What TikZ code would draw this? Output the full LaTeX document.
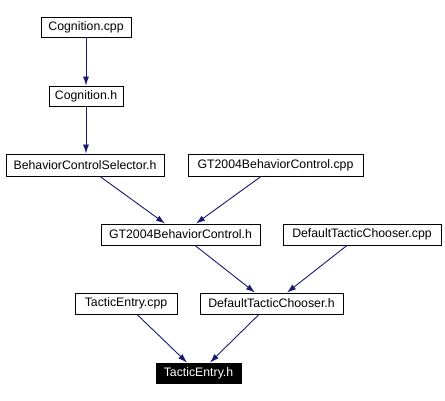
\documentclass[tikz,border=0pt]{standalone}
\usepackage{fontspec}
\setmainfont{Liberation Sans}
\usetikzlibrary{arrows.meta,calc}
\definecolor{edgeblue}{HTML}{191970}
\begin{document}
\begin{tikzpicture}[x=1pt,y=-1pt,
  box/.style={draw=black,line width=0.9pt,fill=white,inner sep=0pt,minimum height=21pt,font=\fontsize{12.3}{14}\selectfont},
  hl/.style={box,fill=black,text=white},
  edge/.style={draw=edgeblue,line width=0.9pt,-{Latex[length=9pt,width=6pt]}}]
\useasboundingbox (0,0) rectangle (445,401);
\node[box,minimum width=90pt,minimum height=20pt] (cpp) at (86,27) {Cognition.cpp};
\node[box,minimum width=74pt,minimum height=20pt] (cogh) at (86,96) {Cognition.h};
\node[box,minimum width=158pt,minimum height=22pt] (bcs) at (85,165) {BehaviorControlSelector.h};
\node[box,minimum width=175pt,minimum height=22pt] (gtcpp) at (275.5,165) {GT2004BehaviorControl.cpp};
\node[box,minimum width=159pt] (gth) at (180.5,234.5) {GT2004BehaviorControl.h};
\node[box,minimum width=158pt] (dtccpp) at (362,234.5) {DefaultTacticChooser.cpp};
\node[box,minimum width=102pt] (tecpp) at (126,303.5) {TacticEntry.cpp};
\node[box,minimum width=143pt] (dtch) at (271.5,303.5) {DefaultTacticChooser.h};
\node[hl,minimum width=85pt,minimum height=20pt] (teh) at (198.5,373) {TacticEntry.h};
\draw[edge] (cpp.south) -- (cogh.north);
\draw[edge] (cogh.south) -- (cogh.south |- bcs.north);
\draw[edge] ($(bcs.south)+(15,0)$) -- ($(gth.north)+(-15.5,0)$);
\draw[edge] ($(gtcpp.south)+(-14.5,0)$) -- ($(gth.north)+(15.5,0)$);
\draw[edge] ($(gth.south)+(14.5,0)$) -- ($(dtch.north)+(-16.5,0)$);
\draw[edge] ($(dtccpp.south)+(-15,0)$) -- ($(dtch.north)+(15.5,0)$);
\draw[edge] ($(tecpp.south)+(11,0)$) -- ($(teh.north)+(-11.5,0)$);
\draw[edge] ($(dtch.south)+(-12.5,0)$) -- ($(teh.north)+(11.5,0)$);
\end{tikzpicture}
\end{document}
